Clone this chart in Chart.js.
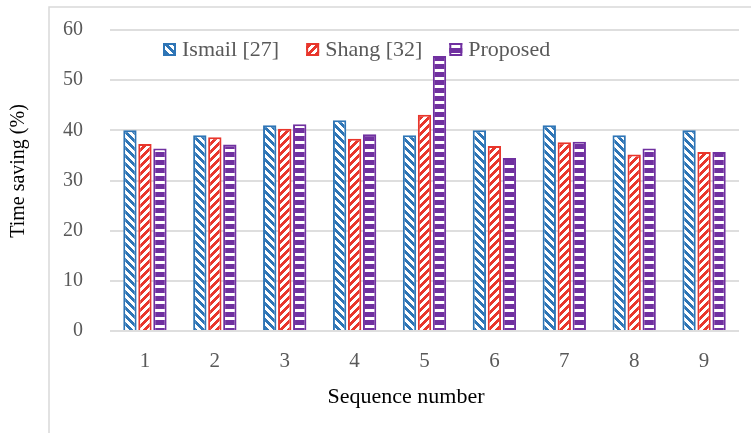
<!DOCTYPE html>
<html>
<head>
<meta charset="utf-8">
<title>Time saving</title>
<script src="https://cdn.jsdelivr.net/npm/chart.js@4.4.0/dist/chart.umd.min.js"></script>
<style>
  html, body { margin: 0; padding: 0; background: #fff; }
  #wrap { width: 751px; height: 433px; }
</style>
</head>
<body>
<div id="wrap"><canvas id="chart" width="751" height="433"></canvas></div>
<script>
// --- data ---
const sequences = ['1', '2', '3', '4', '5', '6', '7', '8', '9'];
const ismail   = [40, 39, 41, 42, 39, 40, 41, 39, 40];
const shang    = [37.3, 38.6, 40.3, 38.3, 43.1, 36.9, 37.6, 35.2, 35.7];
const proposed = [36.4, 37.2, 41.2, 39.2, 54.8, 34.5, 37.7, 36.4, 35.7];
const yTicks   = [0, 10, 20, 30, 40, 50, 60];

const BLUE = '#2E75B6';
const RED = '#E8362C';
const PURPLE = '#7030A0';
const SERIF = '"Liberation Serif", "Times New Roman", serif';

const canvas = document.getElementById('chart');
const ctx = canvas.getContext('2d');

// 8x8 hatch tiles like the Excel patterns
function hatch(color, on) {
    const c = document.createElement('canvas');
    c.width = 8; c.height = 8;
    const g = c.getContext('2d');
    g.fillStyle = '#fff';
    g.fillRect(0, 0, 8, 8);
    g.fillStyle = color;
    for (let y = 0; y < 8; y++) {
        for (let x = 0; x < 8; x++) {
            if (on(x, y)) g.fillRect(x, y, 1, 1);
        }
    }
    return ctx.createPattern(c, 'repeat');
}

const blueFill = hatch(BLUE, (x, y) => ((x - y + 16) % 8) < 4);   // "\"
const redFill = hatch(RED, (x, y) => ((x + y) % 8) < 4);          // "/"
const purpleFill = hatch(PURPLE, (x, y) => (y % 8) < 5);          // horizontal

// legend, axis titles and frame drawn by hand (Excel places them freely)
const decorations = {
    id: 'decorations',
    afterDraw(chart) {
        const c = chart.ctx;
        c.save();

        // outer frame lines
        c.strokeStyle = '#D9D9D9';
        c.lineWidth = 1.5;
        c.beginPath();
        c.moveTo(49, 433);
        c.lineTo(49, 7);
        c.lineTo(751, 7);
        c.stroke();

        // legend
        c.font = '22px ' + SERIF;
        c.textBaseline = 'middle';
        c.textAlign = 'left';
        let x = 163;
        const y = 49.5;
        chart.data.datasets.forEach(ds => {
            c.fillStyle = ds.backgroundColor;
            c.fillRect(x, y - 6.5, 13, 13);
            c.strokeStyle = ds.borderColor;
            c.lineWidth = 2;
            c.strokeRect(x + 1, y - 5.5, 11, 11);
            c.fillStyle = '#595959';
            c.fillText(ds.label, x + 19, y + 1);
            x += 19 + c.measureText(ds.label).width + 27;
        });

        // axis titles
        c.fillStyle = '#000';
        c.textAlign = 'center';
        c.font = '22px ' + SERIF;
        c.fillText('Sequence number', 406, 397);

        c.font = '20px ' + SERIF;
        c.translate(19, 171);
        c.rotate(-Math.PI / 2);
        c.fillText('Time saving (%)', 0, 0);

        c.restore();
    }
};

new Chart(ctx, {
    type: 'bar',
    data: {
        labels: sequences,
        datasets: [
            { label: 'Ismail [27]', data: ismail, backgroundColor: blueFill, borderColor: BLUE, borderWidth: 2 },
            { label: 'Shang [32]', data: shang, backgroundColor: redFill, borderColor: RED, borderWidth: 2 },
            { label: 'Proposed', data: proposed, backgroundColor: purpleFill, borderColor: PURPLE, borderWidth: 2 }
        ]
    },
    options: {
        responsive: false,
        animation: false,
        devicePixelRatio: 1,
        layout: { padding: { top: 30, right: 12, left: 0, bottom: 0 } },
        datasets: { bar: { categoryPercentage: 0.644, barPercentage: 0.89 } },
        plugins: {
            legend: { display: false },
            tooltip: { enabled: false }
        },
        scales: {
            x: {
                grid: { display: false },
                border: { display: false },
                ticks: { color: '#595959', font: { family: SERIF, size: 21 }, padding: 10, maxRotation: 0 },
                afterFit: s => { s.height = 102; }
            },
            y: {
                min: 0,
                max: 60,
                afterBuildTicks: s => { s.ticks = yTicks.map(v => ({ value: v })); },
                // invisible tick marks push the labels away from the plot
                grid: { color: '#DEDEDE', lineWidth: 2, drawTicks: true, tickLength: 27, tickColor: 'rgba(0,0,0,0)' },
                border: { display: false },
                ticks: { color: '#595959', font: { family: SERIF, size: 20 }, padding: 0 },
                afterFit: s => { s.width = 110; }
            }
        }
    },
    plugins: [decorations]
});
</script>
</body>
</html>
